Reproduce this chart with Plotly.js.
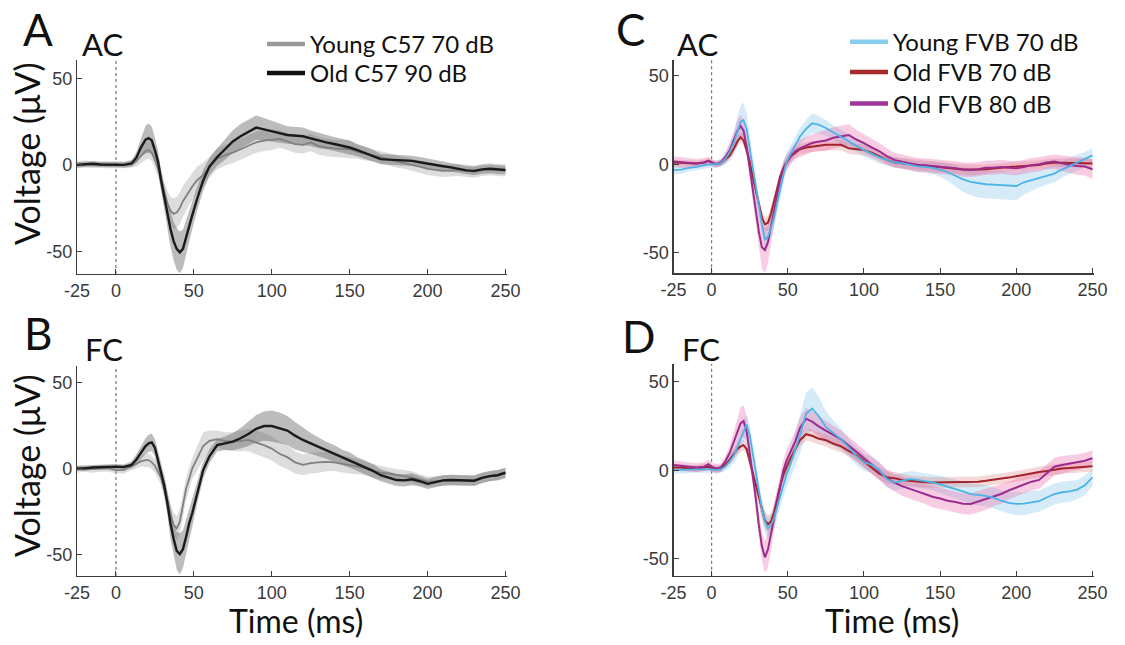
<!DOCTYPE html>
<html>
<head>
<meta charset="utf-8">
<script src="https://cdn.plot.ly/plotly-3.0.1.min.js"></script>
<style>html,body{margin:0;padding:0;background:#fff}#chart{width:1125px;height:645px}</style>
</head>
<body>
<div id="chart"></div>
<script>
// ---------- time grids (ms) ----------
const timeAB = [-25,-20,-15,-10,-5,0,5,10,
  13,16,19,21,23,25,27,29,31,33,35,37,39,41,43,45,47,49,
  52,56,60,
  65,70,75,80,85,90,95,100,105,110,115,120,125,130,135,140,145,150,155,160,165,170,175,180,185,190,195,200,205,210,215,220,225,230,235,240,245,250];
const timeCD = [-25,-20,-15,-10,-5,-2,0,
  3,6,9,12,15,
  17,19,21,23,25,27,29,31,33,35,37,39,41,43,45,47,49,
  52,55,58,62,66,
  70,75,
  80,85,90,95,100,105,110,115,120,125,130,135,140,145,150,155,160,165,170,175,180,185,190,195,200,205,210,215,220,225,230,235,240,245,250];

// ---------- Panel A: AC, C57 ----------
const acYoungC57 = [0,0.5,0.2,0,0,0,0,0.5,
  2,5,8,8.6,7,3,-2,-9,-16,-22,-26.5,-28.3,-27.5,-25,-21,-18,-15,-12.5,
  -9,-5.8,-1.5,
  3.5,5.5,7,9,11,13,14,14.4,15,13.5,12,11.5,12.9,11,10,9.5,9.2,9,7.5,6.5,5.5,4.4,3,2,1.2,0,-1,-2.3,-3,-3.5,-3.3,-3,-3.5,-4,-3,-2.5,-3,-3.2];
const acYoungC57Sem = [2,2,2,2,2,2,2,2,
  3,4,5,5,5,5,5,6,6,7,8,9,9,9,9,8.5,8.5,8,
  8,7,6,
  6,6,6,6,6,6,6,6,5,5,5,5,5,5,5,5,5,5,4,4,3.5,3.5,3.5,3.5,3.5,3.5,3.5,3.5,3.5,3.5,3.5,3.5,3.5,3.5,3.5,3.5,3.5,3.5];
const acOldC57 = [0,0.3,0.6,0.2,0,0,0,0.8,
  4,10,14.5,15.4,14,8.5,2,-9,-19,-28,-37,-44,-48.5,-50.5,-48.5,-42,-35,-29,
  -20,-9,-1,
  4.5,9,13.5,16.5,19,21.5,20.5,19.2,18.3,17.2,16.8,16.5,15.3,14,13,12,11,10,8.5,6.8,5.2,3.3,3,2.9,2.6,2.3,1.5,0.6,0,-0.8,-1.5,-2.5,-3.2,-3.5,-2.6,-2.3,-2.8,-3];
const acOldC57Sem = [1.5,1.5,1.5,1.5,1.5,1.5,1.5,2,
  3,5,8,8.5,8,7,6,6,7,8,10,11,12,12,11,10,9,8,
  7,6,5,
  5,6,6.5,7,7,7,6.5,6,5.5,5,5,5,4.5,4.5,4,4,4,4,3.5,3.5,3.5,3,3,3,3,3,3,3,3,2.5,2.5,2.5,2.5,2.5,2.5,2.5,2.5,2.5];

// ---------- Panel B: FC, C57 ----------
const fcYoungC57 = [-0.5,0,-0.5,0,0,-1,-1,1,
  2.5,4,4.8,4.8,3.5,1.5,-2,-5.5,-12,-20,-27,-33,-34.9,-31,-22,-12,-6,0,
  5.5,13,16,
  17,16,15.5,16,16.5,15,13.5,11.5,8.5,6.5,3.5,2,3,3.5,3.8,3.5,2.5,1.9,1,0,-1.5,-2.5,-3,-3.9,-4.5,-5.2,-6.5,-7.7,-7.5,-7,-6.8,-7,-7,-7,-5.5,-4.5,-4,-3];
const fcYoungC57Sem = [2,2,2,2,2,2,2,2,
  2.5,3,4,4,4,4,4,4.5,5,5.5,6,7,7,7,7,6.5,6.5,6,
  7,8,6,
  5,5,5.5,6,6.5,7,7,7,7,7,6.5,6,6,6,5.5,5,5,5,4.5,4,4,4,3.5,3.5,3.5,3.5,3,3,3,3,3,3,3,3,3,3,3,3];
const fcOldC57 = [0,0,0.5,0.8,1,1,0.8,2,
  5,9,13,14.5,15.1,12,5,-3,-10,-20,-32,-41,-48,-49.8,-47,-40,-32,-26,
  -15,-1,7,
  13.5,14.5,15.5,17.5,20,23,24.6,24.6,23.5,22,19,16.5,14.5,12.5,10.5,8.5,6.5,4.8,2.5,0.5,-1.5,-4,-5.5,-6.8,-7,-6.4,-7.5,-9,-8,-7,-6.8,-7,-7,-7.2,-5.5,-4.5,-4,-2.5];
const fcOldC57Sem = [1.5,1.5,1.5,1.5,1.5,1.5,1.5,2,
  3,4,4.5,5,5,5,5,5,6,7,9,10,11,12,11,10,9,8,
  6,5,4,
  3.5,4,5,6,7,8,8.5,9,9,8.5,8,7,6,5.5,5,5,4.5,4.5,4,4,4,3.5,3.5,3.5,3.5,3.5,3,3,3,3,3,3,3,3,3,3,3,3];

// ---------- Panel C: AC, FVB ----------
const acYoungFVB = [-3.2,-3,-2,-1.5,-0.5,0,0,
  0,0.5,3,7,13,
  19,24,25,20,9,-2,-13,-24,-34,-42.5,-41,-36,-30,-22,-14,-5,1,
  6,11,15.7,20,23.2,
  22.5,20.5,
  18,15.5,13,10.5,8,6,4,2.5,1,0.6,-0.3,-1.2,-1.5,-2,-3,-4.5,-6.5,-8.5,-10,-10.8,-11.3,-11.5,-11.7,-12,-12.3,-10.2,-9,-8,-6.5,-5.3,-3,-1,1,3,5];
const acYoungFVBSem = [2.5,2.5,2,2,2,2,2,
  2,2,3,5,7,
  8,9,10,9,8,7,6,6,6,6,6,6,6,6,6,6,5,
  5,5,5,5,5.5,
  5,4.5,
  4,4,4,3.5,3.5,3.5,3.5,3,3,3,3,3,3,3.5,4,5,6,7,7.5,8,8,8,8,8,8,7,6,5,5,5,4.5,4.5,4.5,4,4];
const acOld70FVB = [1,0.8,0.5,0.5,1,1.9,1,
  0,0.5,2.5,5,9.5,
  13,15.3,13.5,8,1.5,-7,-15,-23,-30,-34,-33,-28,-21,-13,-7,-2.5,1,
  4.5,6.5,8.5,9.5,10,
  10.5,11,
  11,11,9,8.5,8,6.5,4.5,2.5,1,0.6,0,-0.4,-0.8,-1.2,-1.5,-2,-2.5,-3,-3.2,-3,-2.8,-2.3,-1.9,-1.5,-1.3,-1,-0.5,-0.4,0.5,0.9,0.8,0.6,0.6,0.6,0.5];
const acOld70FVBSem = [1.5,1.5,1.5,1.5,1.5,1.5,1.5,
  1.5,1.5,2,2,2.5,
  3,3,3,3,3,3,3,3.5,4,4,4,4,4,3.5,3,3,3,
  3,3,3,3,3,
  3,3,
  3,3,3,3,3,3,3,3,3,3,3,3,3,3,3,3,3,3,3,3,2.5,2.5,2.5,2.5,2.5,2.5,2.5,2.5,2.5,2.5,2.5,2.5,2.5,2.5,2.5];
const acOld80FVB = [1.5,1.2,0.5,0.5,1,1.9,1,
  0,1,4,8,14,
  19,21.7,19,10,-2,-14,-26,-38,-47,-48.5,-44,-35,-26,-17,-9,-3,0.6,
  4.5,7.5,9,10.5,12,
  12.8,13.5,
  15,16,16.6,14,12,9.5,7.5,4.5,2.5,1.5,0.5,-0.4,-0.6,-1,-1.3,-2,-2.3,-3,-3.2,-2.8,-2,-2,-1.5,-2,-2.3,-1.5,-0.5,0,1,1.5,0.5,-0.4,-1,-1.3,-2.8];
const acOld80FVBSem = [3,3,3,2.5,2.5,2.5,2,
  2,2,3,4,5,
  6,6,6,6,6,7,9,11,12,13,12,10,8,6,5,4.5,4.5,
  4.5,4.5,5,5,5,
  5.5,6,
  6,6,6,5.5,5,5,4.5,4.5,4,4,4,4,4,4,4,4,4,4,4,4,4,4,4,4,4,4,4,4,4,4,4.5,4.5,5,5,5.5];

// ---------- Panel D: FC, FVB ----------
const fcYoungFVB = [0,0,0.3,0.5,0.5,0.6,0.5,
  0,0.5,2,5,9,
  13,17,22,26,20,10,-1,-12,-22,-29,-33,-31,-27,-21,-15,-9,-3,
  4,11.5,20,32,35,
  31,24.5,
  21,17.5,13,8,4.5,3,0,-5,-7,-6,-5,-5.5,-6,-6.9,-8,-9.5,-10.7,-12,-13.5,-14,-14.5,-15.5,-17.3,-18.5,-19.1,-19,-18.2,-17.5,-15.5,-13.5,-12.5,-12,-11,-8.5,-4];
const fcYoungFVBSem = [2,2,2,2,2,2,2,
  2,2,2.5,3.5,4.5,
  5,5.5,6,6,6,6,6,6,6,6,6,6,6,6,6,6,7,
  8,9,11,12,12,
  11,9,
  7,6,5,5,5,4.5,4.5,4.5,4.5,4.5,4.5,4.5,4.5,4.5,5,5,5.5,5.5,6,6,6,6,6,6,6.5,6.5,6.5,6,6,6,6,6,5.5,5.5,5];
const fcOld70FVB = [1.5,1.5,1,1,1.5,2,1,
  0.5,1,3,6,9.5,
  12,13.5,14.2,12,5,-1,-8,-16,-23,-28.5,-30.6,-29,-24,-16,-9,-3,1.5,
  7,12,17,20.4,19.5,
  18,17,
  15,13.5,11,8.5,5,1.5,-2,-4,-4.5,-5.5,-6,-6.5,-6.8,-6.9,-6.9,-6.9,-6.9,-6.9,-6.9,-6.5,-6,-5.5,-5.1,-4.2,-3.4,-2.5,-1.6,-1,-0.5,0.4,1,1.3,1.6,1.9,2.2];
const fcOld70FVBSem = [2,2,2,2,2,2,2,
  2,2,2,2.5,3,
  3,3,3,3,3,3.5,4,4.5,5,5,5,4.5,4,4,3.5,3.5,3.5,
  3.5,3.5,3.5,3.5,3.5,
  3.5,3.5,
  3.5,3.5,3.5,3.5,3.5,3.5,3.5,3.5,3.5,3.5,3,3,3,3,3,3,3,3,3,3,3,3,3,3,3,3,3,3,3,3,3,3,3,3,3];
const fcOld80FVB = [3,2.5,2,1.5,2,3.4,2,
  1,1.5,5,10,17,
  22,26.5,27.9,22,10,-2,-16,-31,-43,-49.4,-45,-36,-27,-17,-8,-0.5,5,
  11,16.5,24,29.2,27.5,
  25,22.5,
  20,17.5,14,10.5,6.5,3,-0.5,-4.5,-7,-9,-10.7,-12,-13.5,-15,-16,-17.3,-18,-19,-19.1,-17.8,-16.5,-15,-13.5,-11.5,-9.8,-8,-6.5,-5.5,-2,2,3,3.8,4.5,5.4,6.8];
const fcOld80FVBSem = [2.5,2.5,2.5,2.5,2.5,2.5,2.5,
  2.5,2.5,3,4,6,
  8,9,9,8,7,6,6,7,8,9,10,9,8,7,6,6,6,
  6,6,6,6,6,
  6,5.5,
  5,5,5,5,5,5,5,5,5,5.5,5.5,5.5,5.5,6,6,6,6,6,6,6,6,5.5,5.5,5,5,5,5,5,5,5,5,4.5,4.5,4.5,4.5];

// ---------- ticks ----------
const xTickVals = [-25,0,50,100,150,200,250];
const xTickText = ['-25','0','50','100','150','200','250'];
const yTickVals = [-50,0,50];
const yTickText = ['-50','0','50'];

// ---------- helpers ----------
function bandTraces(x, m, s, color, xa, ya) {
  const up = m.map((v,i)=>v+s[i]);
  const lo = m.map((v,i)=>v-s[i]);
  return [
    {x:x, y:up, xaxis:xa, yaxis:ya, type:'scatter', mode:'lines', line:{width:0, color:color}, showlegend:false, hoverinfo:'skip'},
    {x:x, y:lo, xaxis:xa, yaxis:ya, type:'scatter', mode:'lines', line:{width:0, color:color}, fill:'tonexty', fillcolor:color, showlegend:false, hoverinfo:'skip'}
  ];
}
function lineTrace(x, m, color, w, xa, ya) {
  return {x:x, y:m, xaxis:xa, yaxis:ya, type:'scatter', mode:'lines', line:{color:color, width:w}, showlegend:false, hoverinfo:'skip'};
}
function legendTrace(name, color, lg) {
  return {x:[null], y:[null], xaxis:'x', yaxis:'y', type:'scatter', mode:'lines', name:name, line:{color:color, width:4.5}, legend:lg, showlegend:true};
}

const cYoungC57 = '#808080', cOldC57 = '#1a1a1a';
const bYoungC57 = 'rgba(150,150,150,0.32)', bOldC57 = 'rgba(95,95,95,0.42)';
const cYoungFVB = '#4db3e6', cOld70 = '#a3232b', cOld80 = '#9b2c8e';
const bYoungFVB = 'rgba(135,200,235,0.35)', bOld70 = 'rgba(215,100,100,0.25)', bOld80 = 'rgba(232,95,165,0.32)';

let traces = [];
// A
traces = traces.concat(bandTraces(timeAB, acYoungC57, acYoungC57Sem, bYoungC57, 'x', 'y'));
traces = traces.concat(bandTraces(timeAB, acOldC57, acOldC57Sem, bOldC57, 'x', 'y'));
traces.push(lineTrace(timeAB, acYoungC57, cYoungC57, 1.8, 'x', 'y'));
traces.push(lineTrace(timeAB, acOldC57, cOldC57, 2.4, 'x', 'y'));
// B
traces = traces.concat(bandTraces(timeAB, fcYoungC57, fcYoungC57Sem, bYoungC57, 'x2', 'y2'));
traces = traces.concat(bandTraces(timeAB, fcOldC57, fcOldC57Sem, bOldC57, 'x2', 'y2'));
traces.push(lineTrace(timeAB, fcYoungC57, cYoungC57, 1.8, 'x2', 'y2'));
traces.push(lineTrace(timeAB, fcOldC57, cOldC57, 2.4, 'x2', 'y2'));
// C
traces = traces.concat(bandTraces(timeCD, acYoungFVB, acYoungFVBSem, bYoungFVB, 'x3', 'y3'));
traces = traces.concat(bandTraces(timeCD, acOld70FVB, acOld70FVBSem, bOld70, 'x3', 'y3'));
traces = traces.concat(bandTraces(timeCD, acOld80FVB, acOld80FVBSem, bOld80, 'x3', 'y3'));
traces.push(lineTrace(timeCD, acOld70FVB, cOld70, 2, 'x3', 'y3'));
traces.push(lineTrace(timeCD, acOld80FVB, cOld80, 2, 'x3', 'y3'));
traces.push(lineTrace(timeCD, acYoungFVB, cYoungFVB, 1.8, 'x3', 'y3'));
// D
traces = traces.concat(bandTraces(timeCD, fcYoungFVB, fcYoungFVBSem, bYoungFVB, 'x4', 'y4'));
traces = traces.concat(bandTraces(timeCD, fcOld70FVB, fcOld70FVBSem, bOld70, 'x4', 'y4'));
traces = traces.concat(bandTraces(timeCD, fcOld80FVB, fcOld80FVBSem, bOld80, 'x4', 'y4'));
traces.push(lineTrace(timeCD, fcOld70FVB, cOld70, 2, 'x4', 'y4'));
traces.push(lineTrace(timeCD, fcOld80FVB, cOld80, 2, 'x4', 'y4'));
traces.push(lineTrace(timeCD, fcYoungFVB, cYoungFVB, 1.8, 'x4', 'y4'));
// legend entries (one legend box each, so the rows can sit at the reference spacing)
traces.push(legendTrace('Young C57 70 dB', '#9a9a9a', 'legend'));
traces.push(legendTrace('Old C57 90 dB', '#111111', 'legend2'));
traces.push(legendTrace('Young FVB 70 dB', '#87cdee', 'legend3'));
traces.push(legendTrace('Old FVB 70 dB', '#a52a2a', 'legend4'));
traces.push(legendTrace('Old FVB 80 dB', '#a0359a', 'legend5'));

const W = 1125, H = 645;
const px = v => v / W, py = v => 1 - v / H;
const axisBase = {
  showgrid:false, zeroline:false, showline:true, linecolor:'#3c3c3c', linewidth:1.2,
  ticks:'inside', ticklen:5, tickcolor:'#3c3c3c', tickwidth:1,
  tickfont:{family:'Liberation Sans, Arial, sans-serif', size:18, color:'#3a3a3a'},
  fixedrange:true
};
const xAx = (d, anchor) => Object.assign({}, axisBase, {domain:d, anchor:anchor, range:[-25,251], tickmode:'array', tickvals:xTickVals, ticktext:xTickText});
const yAx = (d, anchor, r) => Object.assign({}, axisBase, {domain:d, anchor:anchor, range:r, tickmode:'array', tickvals:yTickVals, ticktext:yTickText});

const titleFont = {family:'Lato, Open Sans, sans-serif', color:'#111'};
function ann(text, x, y, size, rot) {
  const a = {text:text, x:px(x), y:py(y), xref:'paper', yref:'paper', showarrow:false, xanchor:'center', yanchor:'middle',
    font:Object.assign({size:size}, titleFont)};
  if (rot) a.textangle = rot;
  return a;
}
function zeroLine(xr, yr) {
  return {type:'line', xref:xr, yref:yr + ' domain', x0:0, x1:0, y0:0, y1:1, line:{color:'#777', width:1.2, dash:'dot'}, layer:'below'};
}
function legendBox(left, top) {
  return {x:px(left), y:py(top), xanchor:'left', yanchor:'top', bgcolor:'rgba(0,0,0,0)', borderwidth:0,
    font:{family:'Lato, Open Sans, sans-serif', size:24, color:'#111'}, itemwidth:38, traceorder:'normal'};
}

const layout = {
  width:W, height:H, margin:{l:0, r:0, t:0, b:0}, paper_bgcolor:'#fff', plot_bgcolor:'rgba(0,0,0,0)',
  hovermode:false, showlegend:true,
  xaxis:  xAx([px(77), px(507)], 'y'),
  yaxis:  yAx([py(274), py(60)], 'x', [-63, 60.5]),
  xaxis2: xAx([px(77), px(507)], 'y2'),
  yaxis2: yAx([py(576), py(366)], 'x2', [-62.6, 59.5]),
  xaxis3: xAx([px(673.5), px(1094)], 'y3'),
  yaxis3: yAx([py(273.3), py(60)], 'x3', [-61.7, 59]),
  xaxis4: xAx([px(673.5), px(1094)], 'y4'),
  yaxis4: yAx([py(575.7), py(364)], 'x4', [-59.8, 60.2]),
  legend:  legendBox(262, 22),
  legend2: legendBox(262, 51),
  legend3: legendBox(845, 19.7),
  legend4: legendBox(845, 50),
  legend5: legendBox(845, 81.3),
  shapes: [zeroLine('x','y'), zeroLine('x2','y2'), zeroLine('x3','y3'), zeroLine('x4','y4')],
  annotations: [
    ann('A', 38, 29, 44), ann('B', 38, 333, 44), ann('C', 630, 29, 44), ann('D', 639, 336, 44),
    ann('AC', 102, 44, 31), ann('FC', 104, 349, 31), ann('AC', 697, 44, 31), ann('FC', 701, 349, 31),
    ann('Voltage (μV)', 26, 154, 34, -90), ann('Voltage (μV)', 26, 466, 34, -90),
    ann('Time (ms)', 296, 620, 32), ann('Time (ms)', 892, 620, 32)
  ]
};

Plotly.newPlot('chart', traces, layout, {staticPlot:true, displayModeBar:false});
</script>
</body>
</html>
